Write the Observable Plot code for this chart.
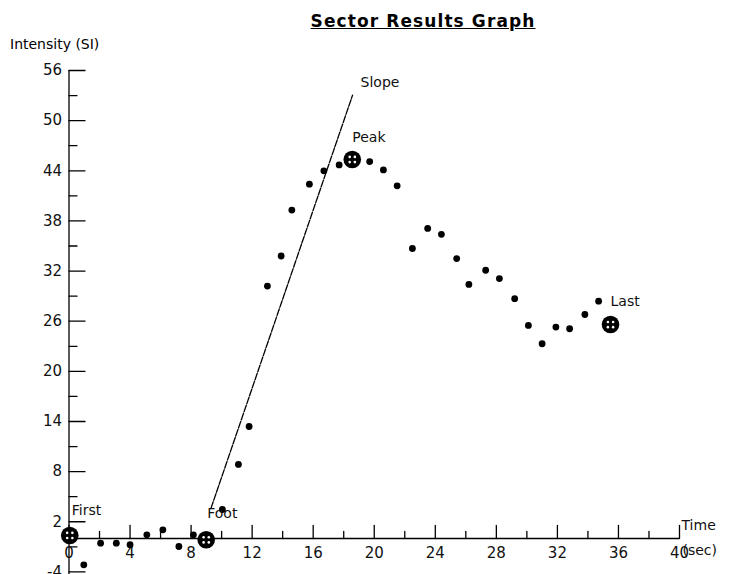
<!DOCTYPE html>
<html><head><meta charset="utf-8">
<script src="https://cdn.jsdelivr.net/npm/d3@7"></script>
<script src="https://cdn.jsdelivr.net/npm/@observablehq/plot@0.6"></script>
<style>
body{margin:0;background:#fff;}
#wrap{position:relative;width:731px;height:574px;overflow:hidden;background:#fff;}
#title{position:absolute;left:423px;top:11px;transform:translateX(-50%);white-space:nowrap;font:bold 17px "DejaVu Sans";letter-spacing:1.1px;text-decoration:underline;color:#000;}
#ylab{position:absolute;left:10px;top:36px;font:14px "DejaVu Sans";color:#000;white-space:nowrap;}
#chart{position:absolute;left:0;top:0;}
</style>
</head><body>
<div id="wrap"><div id="chart"></div><div id="title">Sector Results Graph</div><div id="ylab">Intensity (SI)</div></div>
<script>
// Sample points (time in sec, intensity in SI)
const time = [0.97, 2.07, 3.1, 4.0, 5.1, 6.15, 7.2, 8.15, 10.05, 11.1, 11.8, 13.0, 13.9, 14.6, 15.75, 16.7, 17.7, 19.7, 20.6, 21.5, 22.5, 23.5, 24.4, 25.4, 26.2, 27.3, 28.2, 29.2, 30.1, 31.0, 31.9, 32.8, 33.8, 34.7];
const intensity = [-3.15, -0.56, -0.56, -0.75, 0.44, 1.04, -0.96, 0.44, 3.47, 8.86, 13.4, 30.2, 33.8, 39.3, 42.4, 44.0, 44.7, 45.1, 44.1, 42.2, 34.7, 37.1, 36.4, 33.5, 30.4, 32.1, 31.1, 28.7, 25.5, 23.3, 25.3, 25.1, 26.8, 28.4];
// Key markers
const markerNames = ["First", "Foot", "Peak", "Last"];
const markerTime = [0.05, 8.99, 18.56, 35.48];
const markerIntensity = [0.36, -0.16, 45.35, 25.6];
// Slope line end points
const slopeTime = [9.3, 18.58];
const slopeIntensity = [3.6, 53.05];
// Axis ticks
const xMajor = [0, 4, 8, 12, 16, 20, 24, 28, 32, 36, 40];
const xMinor = [2, 6, 10, 14, 18, 22, 26, 30, 34, 38];
const yMajor = [-4, 2, 8, 14, 20, 26, 32, 38, 44, 50, 56];
const yMinor = [-1, 5, 11, 17, 23, 29, 35, 41, 47, 53];
const axisLabelX = ["Time", "(sec)"];

const points = time.map((t, i) => ({t, v: intensity[i]}));
const markers = markerNames.map((n, i) => ({n, t: markerTime[i], v: markerIntensity[i]}));
const slope = slopeTime.map((t, i) => ({t, v: slopeIntensity[i]}));

// style offsets for labels (pixels)
const labelOffsets = {First: [2, -25], Foot: [1, -26], Peak: [0, -22], Last: [0, -23]};

const tickShape = {draw(ctx, l) { ctx.moveTo(0, 0); ctx.lineTo(0, -l); }};
const font = "DejaVu Sans";

const marks = [
  Plot.ruleX([0], {stroke: "black", strokeWidth: 1.3}),
  Plot.ruleY([0], {stroke: "black", strokeWidth: 1.3}),
  Plot.vector(xMajor, {x: d => d, y: 0, length: 13, anchor: "start", shape: tickShape, stroke: "black", strokeWidth: 1.3}),
  Plot.vector(xMinor, {x: d => d, y: 0, length: 7, anchor: "start", shape: tickShape, stroke: "black", strokeWidth: 1.3}),
  Plot.vector(yMajor, {x: 0, y: d => d, length: 16, rotate: 90, anchor: "start", shape: tickShape, stroke: "black", strokeWidth: 1.3}),
  Plot.vector(yMinor, {x: 0, y: d => d, length: 8, rotate: 90, anchor: "start", shape: tickShape, stroke: "black", strokeWidth: 1.3}),
  Plot.text(xMajor, {x: d => d, y: 0, text: d => String(d), dy: 15, fontSize: 15, fontFamily: font, fill: "#111"}),
  Plot.text(yMajor, {x: 0, y: d => d, text: d => String(d), dx: -7, textAnchor: "end", fontSize: 15, fontFamily: font, fill: "#111"}),
  Plot.line(slope, {x: "t", y: "v", stroke: "black", strokeWidth: 1.3, strokeDasharray: "7,1.5"}),
  Plot.dot(points, {x: "t", y: "v", r: 3.4, fill: "black"}),
  Plot.dot(markers, {x: "t", y: "v", r: 8.8, fill: "black"}),
  ...[[-2.6, -2.6], [2.6, -2.6], [-2.6, 2.6], [2.6, 2.6]].map(([dx, dy]) =>
    Plot.dot(markers, {x: "t", y: "v", r: 1.3, fill: "white", dx, dy})),
  ...markers.map(m => Plot.text([m], {x: "t", y: "v", text: "n", textAnchor: "start", dx: labelOffsets[m.n][0], dy: labelOffsets[m.n][1], fontSize: 14, fontFamily: font, fill: "#111"})),
  Plot.text([slope[1]], {x: "t", y: "v", text: () => "Slope", textAnchor: "start", dx: 8, dy: -13, fontSize: 14, fontFamily: font, fill: "#111"}),
  Plot.text([40], {x: d => d, y: 0, text: () => axisLabelX[0], textAnchor: "start", dx: 2, dy: -13, fontSize: 14, fontFamily: font, fill: "#111"}),
  Plot.text([40], {x: d => d, y: 0, text: () => axisLabelX[1], textAnchor: "start", dx: 3, dy: 12, fontSize: 14, fontFamily: font, fill: "#111"})
];

const chart = Plot.plot({
  width: 731,
  height: 574,
  marginTop: 70,
  marginBottom: 0,
  marginLeft: 68.5,
  marginRight: 52,
  x: {domain: [0, 40], axis: null},
  y: {domain: [-4.31, 56], axis: null},
  style: {background: "white", overflow: "visible"},
  marks
});
document.getElementById("chart").appendChild(chart);
</script>
</body></html>
